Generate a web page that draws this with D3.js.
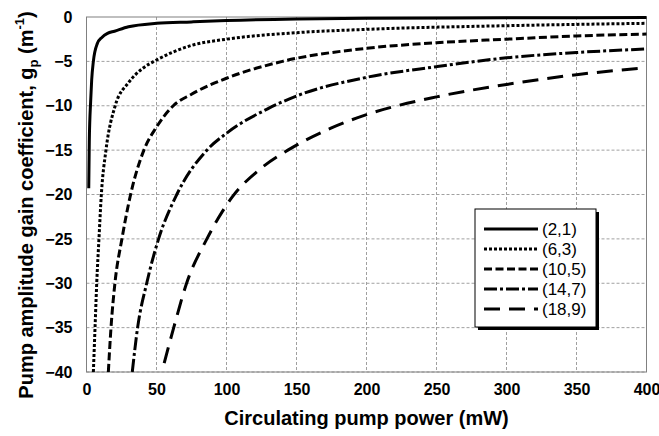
<!DOCTYPE html>
<html>
<head>
<meta charset="utf-8">
<script src="https://cdn.jsdelivr.net/npm/d3@7"></script>
<style>
  html, body { margin: 0; padding: 0; background: #fff; }
  svg { display: block; font-family: Arial, "Liberation Sans", sans-serif; }
</style>
</head>
<body>
<svg id="chart" width="659" height="436"></svg>
<script>
// Pump amplitude gain coefficient vs circulating pump power, per (m,n) mode pair
const seriesNames = ["(2,1)", "(6,3)", "(10,5)", "(14,7)", "(18,9)"];

const power21 = [1.6, 2.0, 3.0, 3.7, 4.9, 7.7, 11, 15, 20, 30, 50, 75, 100, 150, 200, 300, 400];
const gain21  = [-19.3, -14, -9.4, -7.1, -5, -3, -2.3, -1.85, -1.6, -1.1, -0.71, -0.55, -0.4, -0.22, -0.15, -0.09, -0.06];

const power63 = [4.9, 6.1, 7.3, 8.9, 10.6, 13.9, 20.5, 30, 40, 50, 75, 100, 150, 200, 300, 400];
const gain63  = [-40, -35, -30, -25, -20, -15, -10, -7.4, -5.8, -4.85, -3.2, -2.5, -1.77, -1.39, -0.98, -0.71];

const power105 = [15.6, 17.5, 20.3, 25.3, 31.5, 41, 50, 62, 75, 100, 140, 200, 250, 300, 350, 400];
const gain105  = [-40, -35, -30, -25, -20, -15, -12.4, -10, -8.7, -6.9, -5, -3.53, -2.9, -2.5, -2.14, -1.92];

const power147 = [32.7, 36.5, 43, 51.5, 64.5, 86, 100, 130, 150, 200, 250, 300, 350, 400];
const gain147  = [-40, -35, -30, -25, -20, -15, -13.1, -10.3, -8.9, -6.8, -5.6, -4.6, -4.0, -3.6];

const power189 = [55.5, 62.3, 71.5, 86, 104, 125, 146, 175, 200, 250, 300, 350, 400];
const gain189  = [-39, -35, -30, -25, -20.3, -17, -14.8, -12.5, -11, -9.0, -7.6, -6.5, -5.7];

const xTicks = [0, 50, 100, 150, 200, 250, 300, 350, 400];
const yTicks = [0, -5, -10, -15, -20, -25, -30, -35, -40];

const seriesPower = [power21, power63, power105, power147, power189];
const seriesGain  = [gain21, gain63, gain105, gain147, gain189];
const dashes = [null, "3,2", "8,3.5", "13,3,3,3", "16,9"];

const series = seriesNames.map((name, i) => ({
  name,
  dash: dashes[i],
  points: seriesPower[i].map((p, j) => ({ p, g: seriesGain[i][j] }))
}));

const svg = d3.select("#chart");
const margin = { left: 86.5, right: 12.5, top: 17, bottom: 64 };
const W = 659, H = 436;

const x = d3.scaleLinear().domain([0, 400]).range([margin.left, W - margin.right]);
const y = d3.scaleLinear().domain([-40, 0]).range([H - margin.bottom, margin.top]);

// grid
const grid = svg.append("g");
grid.selectAll("line.v").data(xTicks.slice(1)).join("line")
  .attr("x1", d => x(d)).attr("x2", d => x(d))
  .attr("y1", y(0)).attr("y2", y(-40))
  .attr("stroke", "#a0a0a0").attr("stroke-width", 1)
  .attr("stroke-dasharray", "3,2");
grid.selectAll("line.h").data(yTicks.slice(1)).join("line")
  .attr("x1", x(0)).attr("x2", x(400))
  .attr("y1", d => y(d)).attr("y2", d => y(d))
  .attr("stroke", "#a0a0a0").attr("stroke-width", 1)
  .attr("stroke-dasharray", "3,2");

// frame
svg.append("rect")
  .attr("x", x(0)).attr("y", y(0))
  .attr("width", x(400) - x(0)).attr("height", y(-40) - y(0))
  .attr("fill", "none").attr("stroke", "#808080").attr("stroke-width", 1);

// axes
const xAxis = svg.append("g")
  .attr("transform", `translate(0,${y(-40)})`)
  .call(d3.axisBottom(x).tickValues(xTicks).tickSize(0).tickPadding(12));
const yAxis = svg.append("g")
  .attr("transform", `translate(${x(0)},0)`)
  .call(d3.axisLeft(y).tickValues(yTicks).tickSize(0).tickPadding(14));
[xAxis, yAxis].forEach(a => {
  a.select(".domain").remove();
  a.selectAll("text")
    .attr("font-family", "Arial, 'Liberation Sans', sans-serif")
    .attr("font-size", 16).attr("font-weight", "bold").attr("fill", "#000");
});

// curves
svg.append("clipPath").attr("id", "plotclip")
  .append("rect").attr("x", x(0)).attr("y", y(0) - 3)
  .attr("width", x(400) - x(0) + 2).attr("height", y(-40) - y(0) + 3);

const line = d3.line().x(d => x(d.p)).y(d => y(d.g)).curve(d3.curveMonotoneX);
svg.append("g").attr("clip-path", "url(#plotclip)")
  .selectAll("path").data(series).join("path")
  .attr("d", d => line(d.points))
  .attr("fill", "none").attr("stroke", "#000").attr("stroke-width", 3)
  .attr("stroke-dasharray", d => d.dash);

// legend
const lg = svg.append("g").attr("transform", "translate(475,209)");
lg.append("rect").attr("x", 3).attr("y", 3).attr("width", 121).attr("height", 118).attr("fill", "#000");
lg.append("rect").attr("x", 0).attr("y", 0).attr("width", 121).attr("height", 118)
  .attr("fill", "#fff").attr("stroke", "#000").attr("stroke-width", 1);
const rows = lg.selectAll("g.row").data(series).join("g")
  .attr("transform", (d, i) => `translate(0,${20 + i * 20})`);
rows.append("line").attr("x1", 9).attr("x2", 63).attr("y1", 0).attr("y2", 0)
  .attr("stroke", "#000").attr("stroke-width", 3)
  .attr("stroke-dasharray", d => d.dash);
rows.append("text").attr("x", 67).attr("y", 0).attr("dy", "0.35em")
  .attr("font-size", 17).text(d => d.name);

// axis titles
svg.append("text")
  .attr("x", (x(0) + x(400)) / 2).attr("y", 425)
  .attr("text-anchor", "middle").attr("font-size", 20).attr("font-weight", "bold")
  .text("Circulating pump power (mW)");

const yt = svg.append("text")
  .attr("transform", "translate(33,205) rotate(-90)")
  .attr("text-anchor", "middle").attr("font-size", 20).attr("font-weight", "bold");
yt.append("tspan").text("Pump amplitude gain coefficient, g");
yt.append("tspan").attr("font-size", 13).attr("dy", 5).text("p");
yt.append("tspan").attr("dy", -5).text(" (m");
yt.append("tspan").attr("font-size", 13).attr("dy", -9).text("-1");
yt.append("tspan").attr("dy", 9).text(")");
</script>
</body>
</html>
